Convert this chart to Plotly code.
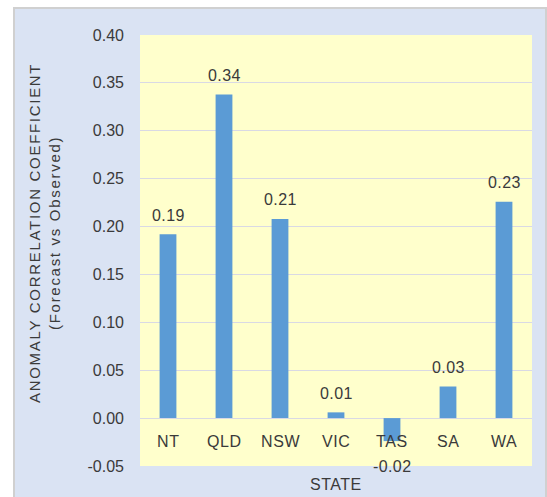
import plotly.graph_objects as go

# Anomaly correlation coefficient (forecast vs observed) by state
states = ["NT", "QLD", "NSW", "VIC", "TAS", "SA", "WA"]
acc_values = [0.192, 0.338, 0.208, 0.006, -0.024, 0.033, 0.226]

y_tick_values = [-0.05, 0.00, 0.05, 0.10, 0.15, 0.20, 0.25, 0.30, 0.35, 0.40]
y_tick_labels = ["-0.05", "0.00", "0.05", "0.10", "0.15", "0.20",
                 "0.25", "0.30", "0.35", "0.40"]

FONT = "Liberation Sans, Arial, sans-serif"
TEXT_COLOR = "#3a3a3a"
BAR_COLOR = "#5b9bd5"
PANEL_COLOR = "#dae3f3"
PLOT_COLOR = "#ffffcc"
GRID_COLOR = "#d9d9e4"

W, H = 547, 497
ML, MR, MT, MB = 140, 15, 35, 31
PW, PH = W - ML - MR, H - MT - MB


def px_x(x):
    return (x - ML) / PW


def px_y(y):
    return 1 - (y - MT) / PH


def spaced(text, px):
    return f'<span style="letter-spacing:{px}px">{text}</span>'


fig = go.Figure(
    go.Bar(
        x=states,
        y=acc_values,
        marker=dict(color=BAR_COLOR, line=dict(width=0)),
        hoverinfo="x+y",
    )
)

annotations = []
# value labels above (or below) each bar
for s, v in zip(states, acc_values):
    annotations.append(dict(
        x=s, y=v, xref="x", yref="y", text=spaced(f"{v:.2f}", 0.4),
        showarrow=False, yanchor="middle", yshift=19 if v >= 0 else -25,
        font=dict(family=FONT, size=16, color=TEXT_COLOR),
    ))
# category labels sitting next to the zero line
for s in states:
    annotations.append(dict(
        x=s, y=0, xref="x", yref="y", text=spaced(s, 0.6), showarrow=False,
        yanchor="middle", yshift=-23,
        font=dict(family=FONT, size=16, color=TEXT_COLOR),
    ))
# axis titles
annotations.append(dict(
    x=0.5, y=0, xref="paper", yref="paper", text=spaced("STATE", 0.5),
    showarrow=False, yanchor="middle", yshift=-18,
    font=dict(family=FONT, size=16, color=TEXT_COLOR),
))
annotations.append(dict(
    x=0, y=px_y(233), xref="paper", yref="paper", showarrow=False,
    xanchor="center", yanchor="middle", xshift=45 - ML, textangle=-90,
    text=spaced("ANOMALY CORRELATION COEFFICIENT", 1.7)
         + "<br>" + spaced("(Forecast vs Observed)", 1.7),
    font=dict(family=FONT, size=15, color=TEXT_COLOR),
))

shapes = [
    # outer chart panel
    dict(type="rect", xref="paper", yref="paper", layer="below",
         x0=px_x(14), x1=px_x(546), y0=px_y(505), y1=px_y(8),
         fillcolor=PANEL_COLOR, line=dict(color="#d0d0d0", width=2)),
    # plot area fill
    dict(type="rect", xref="paper", yref="paper", layer="below",
         x0=0, x1=1, y0=0, y1=1, fillcolor=PLOT_COLOR, line=dict(width=0)),
]

fig.update_layout(
    width=W, height=H,
    margin=dict(l=ML, r=MR, t=MT, b=MB, pad=0),
    paper_bgcolor="white",
    plot_bgcolor=PLOT_COLOR,
    bargap=0.7,
    showlegend=False,
    font=dict(family=FONT, size=16, color=TEXT_COLOR),
    xaxis=dict(showticklabels=False, showgrid=False, zeroline=False,
               showline=False, ticks=""),
    yaxis=dict(range=[-0.05, 0.40], tickvals=y_tick_values,
               ticktext=y_tick_labels, showgrid=True, gridcolor=GRID_COLOR,
               gridwidth=1, zeroline=True, zerolinecolor=GRID_COLOR,
               zerolinewidth=1, showline=False, ticks="",
               ticklabelstandoff=15,
               tickfont=dict(family=FONT, size=16, color=TEXT_COLOR)),
    annotations=annotations,
    shapes=shapes,
)

fig.write_html("out.html")
